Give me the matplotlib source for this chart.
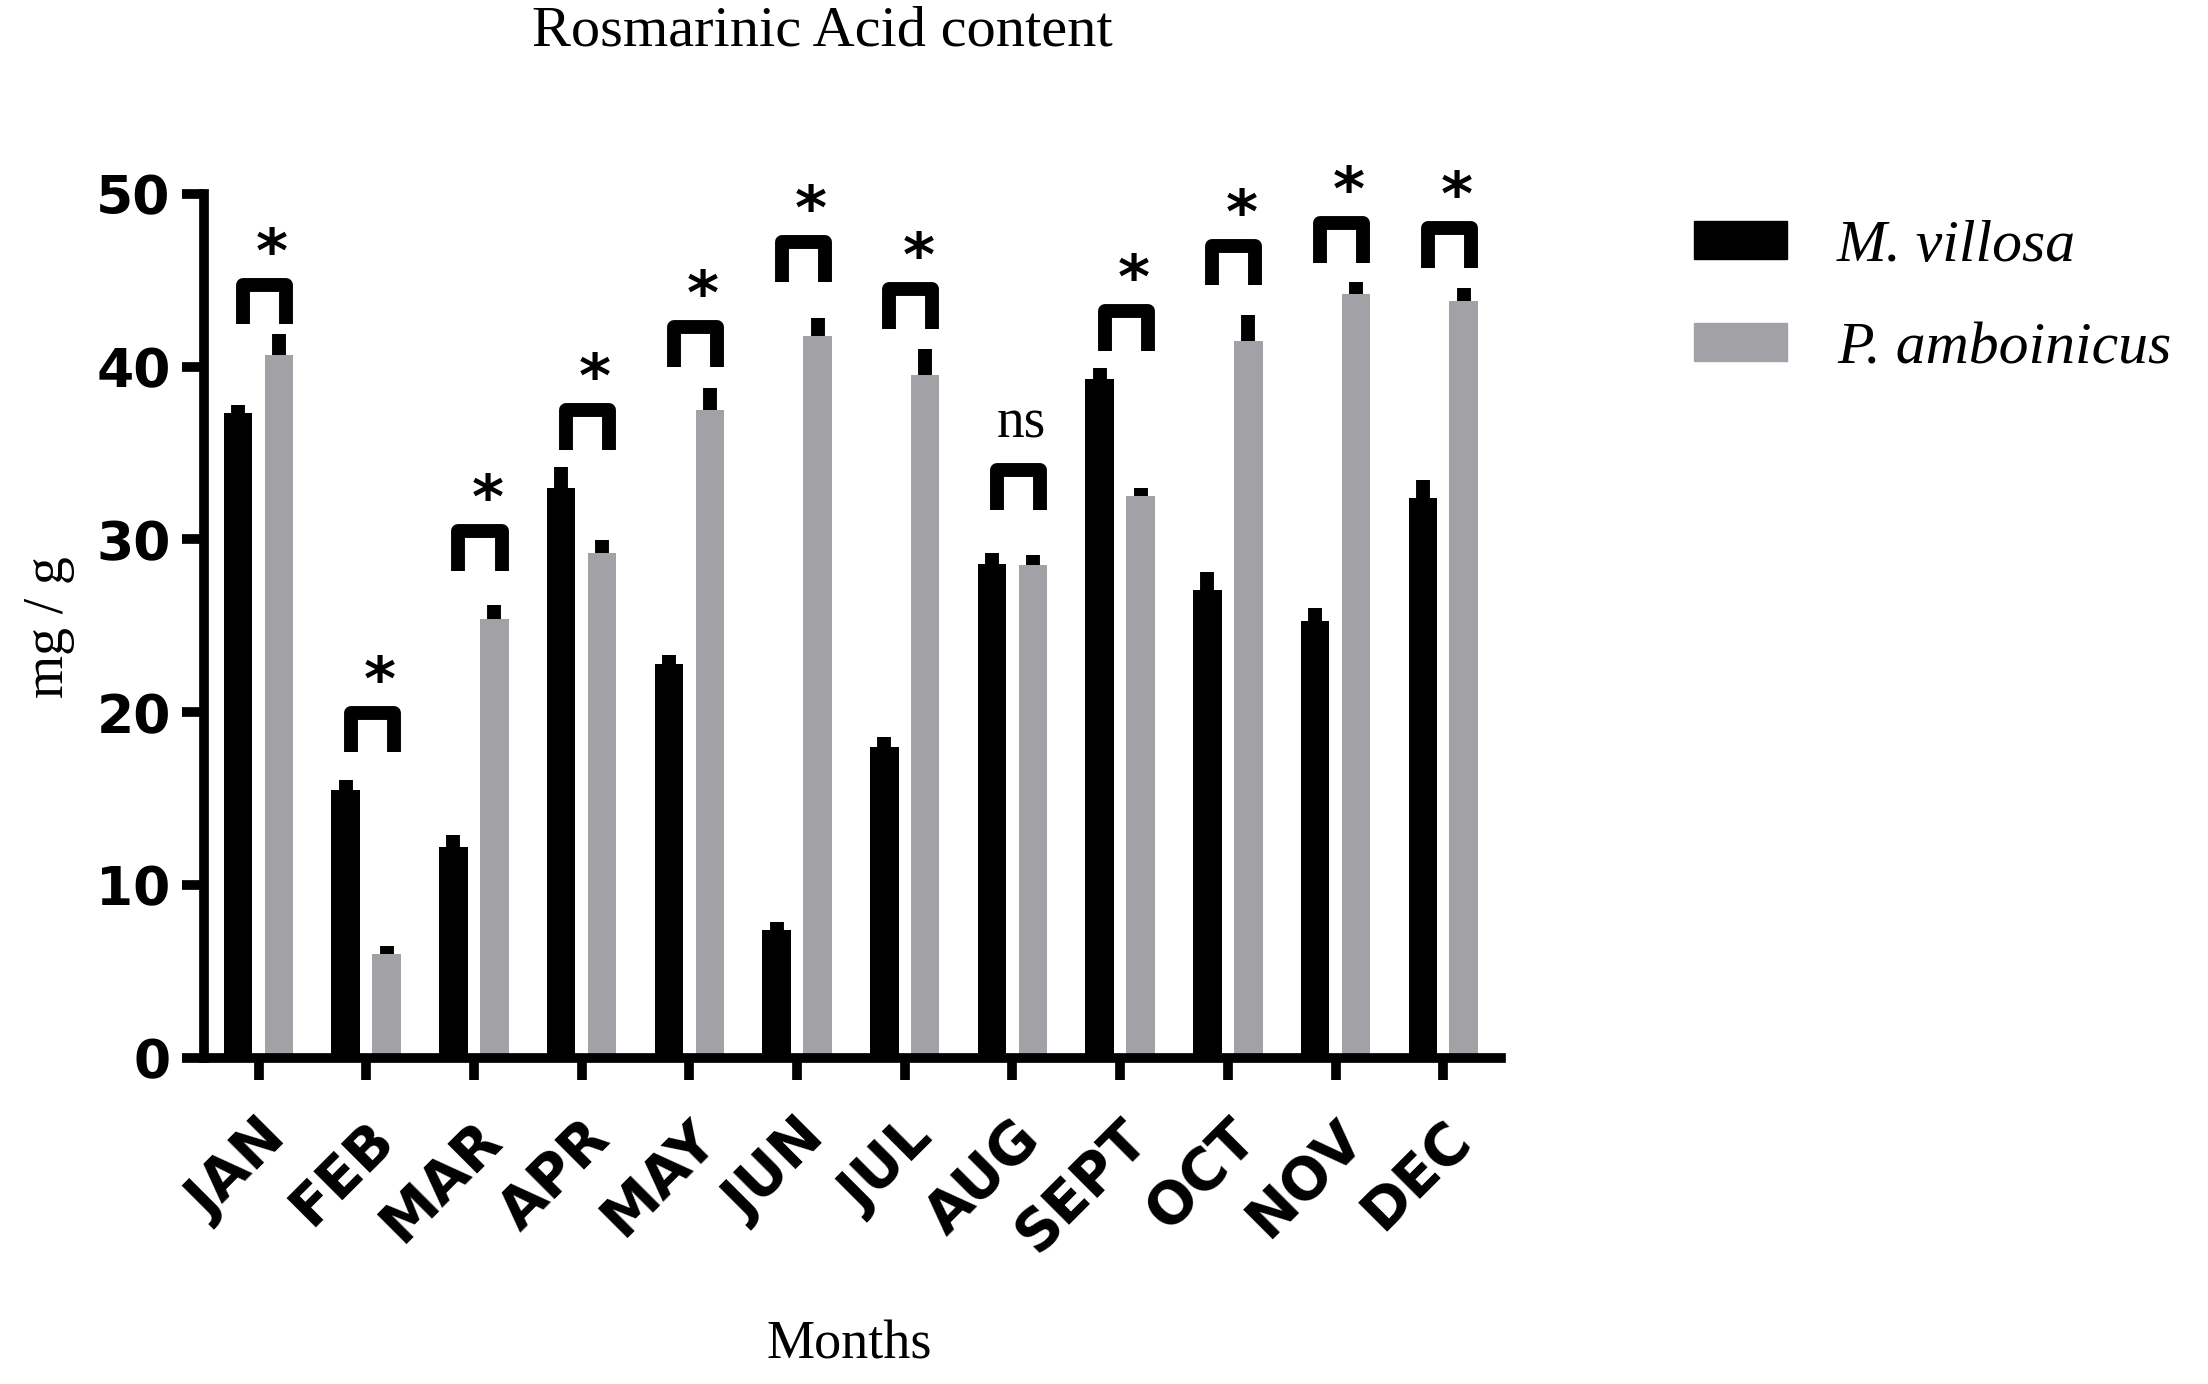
import numpy as np
import matplotlib.pyplot as plt
from matplotlib.patches import Patch

# Dados (mg/g)
meses = ['JAN', 'FEB', 'MAR', 'APR', 'MAY', 'JUN', 'JUL', 'AUG', 'SEPT', 'OCT', 'NOV', 'DEC']
m_villosa = [37.3, 15.5, 12.2, 33.0, 22.8, 7.4, 18.0, 28.6, 39.3, 27.1, 25.3, 32.4]
m_villosa_err = [0.5, 0.6, 0.7, 1.2, 0.5, 0.5, 0.6, 0.6, 0.6, 1.0, 0.75, 1.05]
p_amboinicus = [40.7, 6.0, 25.4, 29.2, 37.5, 41.8, 39.5, 28.5, 32.5, 41.5, 44.2, 43.8]
p_amboinicus_err = [1.2, 0.5, 0.8, 0.75, 1.25, 1.0, 1.5, 0.6, 0.45, 1.5, 0.7, 0.75]

# Colchetes de significância (altura da barra horizontal) e rótulos
colchete_y = [44.75, 19.98, 30.5, 37.5, 42.3, 47.2, 44.5, 34.0, 43.2, 47.0, 48.3, 48.0]
signif = ['*', '*', '*', '*', '*', '*', '*', 'ns', '*', '*', '*', '*']

cinza = '#a2a1a6'
x = np.arange(len(meses))
w = 0.265
d = 0.19

fig = plt.figure(figsize=(22.08, 13.84), dpi=100)
ax = fig.add_axes([0.0924, 0.2355, 0.5876, 0.6245])

ax.bar(x - d, m_villosa, w, color='black', zorder=2)
ax.bar(x + d, p_amboinicus, w, color=cinza, zorder=2)

for xs, ys, es in [(x - d, m_villosa, m_villosa_err), (x + d, p_amboinicus, p_amboinicus_err)]:
    eb = ax.errorbar(xs, ys, yerr=[np.zeros(len(es)), es], fmt='none',
                     ecolor='black', elinewidth=10, capsize=0, zorder=3)
    eb[2][0].set_capstyle('butt')

# colchetes
for i, (yc, s) in enumerate(zip(colchete_y, signif)):
    xc = x[i] + 0.056
    ax.plot([xc - 0.2, xc - 0.2, xc + 0.2, xc + 0.2], [yc - 2.3, yc, yc, yc - 2.3],
            color='black', lw=10, solid_joinstyle='round', solid_capstyle='butt',
            zorder=4, clip_on=False)
    if s == '*':
        ax.text(xc + 0.07, yc + 0.75, s, ha='center', va='baseline', fontsize=44,
                fontweight='bold', family='DejaVu Sans', clip_on=False)
    else:
        ax.text(xc + 0.03, yc + 1.9, s, ha='center', va='baseline', fontsize=40,
                family='Liberation Serif', clip_on=False)

ax.set_xlim(-0.506, 11.54)
ax.set_ylim(0, 50)
ax.set_yticks([0, 10, 20, 30, 40, 50])
ax.set_xticks(x)
ax.set_xticklabels(meses, rotation=45, ha='right', rotation_mode='anchor')
for lab in ax.get_yticklabels():
    lab.set_family('DejaVu Sans')
    lab.set_fontweight('bold')
    lab.set_fontsize(38.5)
for lab in ax.get_xticklabels():
    lab.set_family('DejaVu Sans')
    lab.set_fontweight('bold')
    lab.set_fontsize(41)

ax.spines['top'].set_visible(False)
ax.spines['right'].set_visible(False)
for sp in ['left', 'bottom']:
    ax.spines[sp].set_linewidth(7)
ax.tick_params(axis='both', length=16, width=7, pad=8)
ax.tick_params(axis='x', pad=22)

fig.text(0.3725, 0.9776, 'Rosmarinic Acid content', ha='center', va='center',
         fontsize=42, family='Liberation Serif')
fig.text(0.0222, 0.547, 'mg / g', rotation=90, ha='center', va='center',
         fontsize=40, family='Liberation Serif')
fig.text(0.3845, 0.0282, 'Months', ha='center', va='center',
         fontsize=39, family='Liberation Serif')

handles = [Patch(color='black'), Patch(color=cinza)]
fig.legend(handles, ['M. villosa', 'P. amboinicus'], loc='upper left',
           bbox_to_anchor=(0.7536, 0.8624), frameon=False, borderpad=0,
           handlelength=1.56, handleheight=0.59, handletextpad=0.84, labelspacing=0.80,
           prop={'family': 'Liberation Serif', 'style': 'italic', 'size': 43})

fig.savefig('out.png', dpi=100)
